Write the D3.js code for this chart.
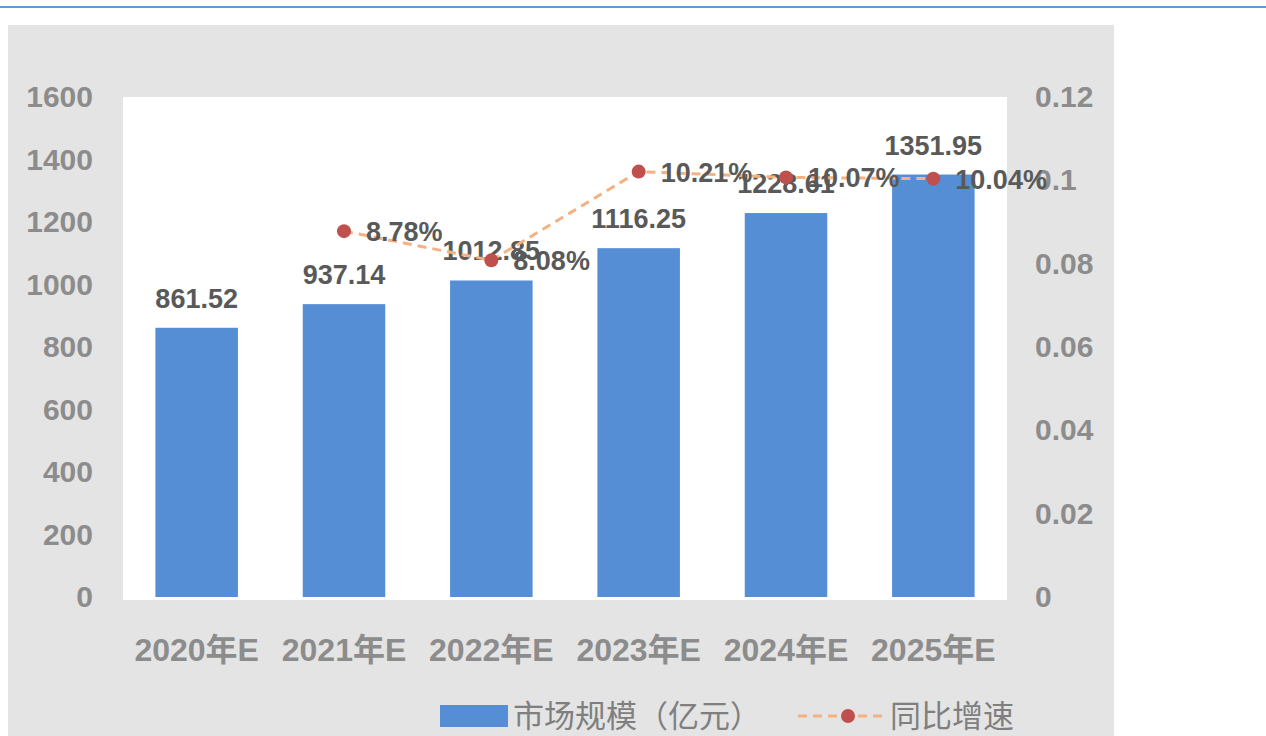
<!DOCTYPE html>
<html>
<head>
<meta charset="utf-8">
<script src="https://cdn.jsdelivr.net/npm/d3@7"></script>
<style>
    body { margin: 0; background: #ffffff; }
    svg { display: block; }
    text { font-family: "Liberation Sans", Arial, "Noto Sans CJK SC", sans-serif; }
</style>
</head>
<body>
<svg id="chart" width="1266" height="736"></svg>
<script>
/*------------------- data --------------------*/
const years = ["2020年E", "2021年E", "2022年E", "2023年E", "2024年E", "2025年E"];
const marketSize = [861.52, 937.14, 1012.85, 1116.25, 1228.61, 1351.95];
const growth = [null, 0.0878, 0.0808, 0.1021, 0.1007, 0.1004];
const growthLabels = ["", "8.78%", "8.08%", "10.21%", "10.07%", "10.04%"];
const leftTicks = [0, 200, 400, 600, 800, 1000, 1200, 1400, 1600];
const rightTicks = [0, 0.02, 0.04, 0.06, 0.08, 0.1, 0.12];
const legendNames = ["市场规模（亿元）", "同比增速"];

/*------------------- colours --------------------*/
const barColor = "#558ed5";
const lineColor = "#f4b183";
const dotColor = "#c0504d";
const axisText = "#8c8c8c";
const labelText = "#595959";

const svg = d3.select("#chart");

// top rule
svg.append("rect")
    .attr("x", 0).attr("y", 6)
    .attr("width", 1266).attr("height", 2)
    .attr("fill", "#5b9bd5");

// gray panel + white plot area
svg.append("rect")
    .attr("x", 8).attr("y", 25)
    .attr("width", 1106).attr("height", 711)
    .attr("fill", "#e4e4e4");

const plot = { left: 123, right: 1007, top: 97, bottom: 597 };

svg.append("rect")
    .attr("x", plot.left).attr("y", plot.top)
    .attr("width", plot.right - plot.left).attr("height", plot.bottom - plot.top + 3)
    .attr("fill", "#ffffff");

/*------------------- scales --------------------*/
const x = d3.scaleBand()
    .domain(years)
    .range([plot.left, plot.right])
    .paddingInner(0.44)
    .paddingOuter(0.22);

const y = d3.scaleLinear()
    .domain([0, 1600])
    .range([plot.bottom, plot.top]);

const y2 = d3.scaleLinear()
    .domain([0, 0.12])
    .range([plot.bottom, plot.top]);

/*------------------- axes --------------------*/
const leftAxis = svg.append("g")
    .attr("transform", "translate(" + plot.left + ",0)")
    .call(d3.axisLeft(y).tickValues(leftTicks).tickSize(0).tickPadding(30)
        .tickFormat(d3.format("d")));

const rightAxis = svg.append("g")
    .attr("transform", "translate(" + plot.right + ",0)")
    .call(d3.axisRight(y2).tickValues(rightTicks).tickSize(0).tickPadding(28)
        .tickFormat(d => String(+d.toFixed(2))));

[leftAxis, rightAxis].forEach(g => {
    g.select(".domain").remove();
    g.selectAll("text")
        .attr("fill", axisText)
        .style("font-size", "30px")
        .style("font-weight", "bold");
});

const bottomAxis = svg.append("g")
    .attr("transform", "translate(0," + plot.bottom + ")")
    .call(d3.axisBottom(x).tickSize(0).tickPadding(0));
bottomAxis.select(".domain").remove();
bottomAxis.selectAll("text")
    .attr("y", 64)
    .attr("dy", null)
    .attr("fill", axisText)
    .style("font-size", "32px")
    .style("font-weight", "bold");

/*------------------- bars --------------------*/
svg.append("g")
    .selectAll("rect")
    .data(years)
    .join("rect")
    .attr("x", d => x(d))
    .attr("y", (d, i) => y(marketSize[i]))
    .attr("width", x.bandwidth())
    .attr("height", (d, i) => y(0) - y(marketSize[i]))
    .attr("fill", barColor);

svg.append("g")
    .selectAll("text")
    .data(years)
    .join("text")
    .attr("x", d => x(d) + x.bandwidth() / 2)
    .attr("y", (d, i) => y(marketSize[i]) - 20)
    .attr("text-anchor", "middle")
    .attr("fill", labelText)
    .style("font-size", "27px")
    .style("font-weight", "bold")
    .text((d, i) => marketSize[i].toFixed(2));

/*------------------- growth line --------------------*/
const pts = years.map((d, i) => ({ year: d, v: growth[i], label: growthLabels[i] }))
    .filter(d => d.v !== null);

const line = d3.line()
    .x(d => x(d.year) + x.bandwidth() / 2)
    .y(d => y2(d.v));

svg.append("path")
    .datum(pts)
    .attr("d", line)
    .attr("fill", "none")
    .attr("stroke", lineColor)
    .attr("stroke-width", 3)
    .attr("stroke-dasharray", "9,6");

svg.append("g")
    .selectAll("circle")
    .data(pts)
    .join("circle")
    .attr("cx", d => x(d.year) + x.bandwidth() / 2)
    .attr("cy", d => y2(d.v))
    .attr("r", 7)
    .attr("fill", dotColor);

svg.append("g")
    .selectAll("text")
    .data(pts)
    .join("text")
    .attr("x", d => x(d.year) + x.bandwidth() / 2 + 22)
    .attr("y", d => y2(d.v) + 10)
    .attr("fill", labelText)
    .style("font-size", "27px")
    .style("font-weight", "bold")
    .text(d => d.label);

/*------------------- legend --------------------*/
const legend = svg.append("g");
legend.append("rect")
    .attr("x", 440).attr("y", 705)
    .attr("width", 68).attr("height", 22)
    .attr("fill", barColor);
legend.append("text")
    .attr("x", 513).attr("y", 727)
    .attr("fill", "#7f7f7f")
    .style("font-size", "31px")
    .text(legendNames[0]);
legend.append("line")
    .attr("x1", 798).attr("x2", 882)
    .attr("y1", 716).attr("y2", 716)
    .attr("stroke", lineColor)
    .attr("stroke-width", 3)
    .attr("stroke-dasharray", "9,6");
legend.append("circle")
    .attr("cx", 848).attr("cy", 716)
    .attr("r", 7)
    .attr("fill", dotColor);
legend.append("text")
    .attr("x", 890).attr("y", 727)
    .attr("fill", "#7f7f7f")
    .style("font-size", "31px")
    .text(legendNames[1]);
</script>
</body>
</html>
